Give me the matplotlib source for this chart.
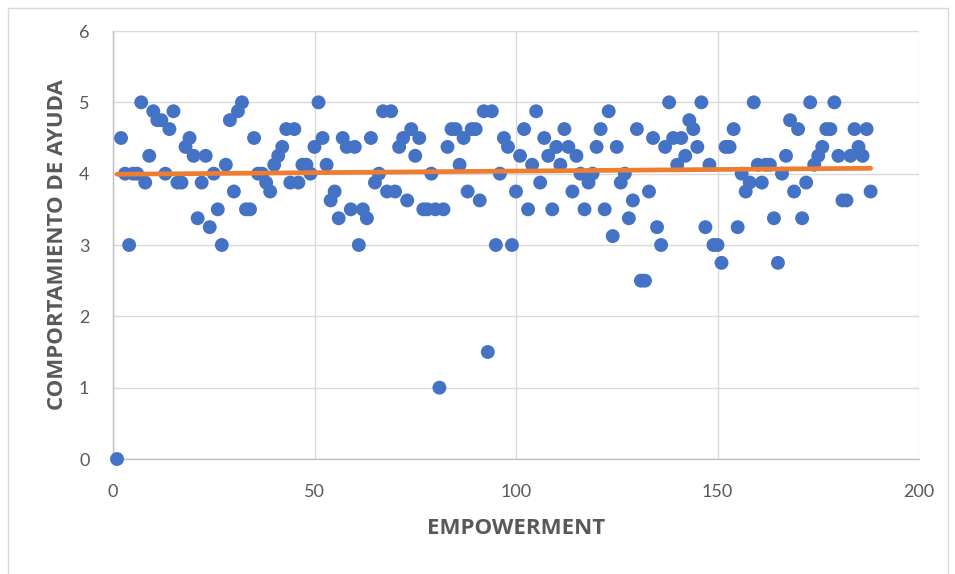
import numpy as np
import matplotlib
matplotlib.use("Agg")
import matplotlib.pyplot as plt
from matplotlib.patches import Rectangle

# Respondent index (EMPOWERMENT axis) and mean helping-behaviour score
empowerment = list(range(1, 189))
ayuda = [
    0, 4.5, 4, 3, 4, 4, 5, 3.875, 4.25, 4.875,
    4.75, 4.75, 4, 4.625, 4.875, 3.875, 3.875, 4.375, 4.5, 4.25,
    3.375, 3.875, 4.25, 3.25, 4, 3.5, 3, 4.125, 4.75, 3.75,
    4.875, 5, 3.5, 3.5, 4.5, 4, 4, 3.875, 3.75, 4.125,
    4.25, 4.375, 4.625, 3.875, 4.625, 3.875, 4.125, 4.125, 4, 4.375,
    5, 4.5, 4.125, 3.625, 3.75, 3.375, 4.5, 4.375, 3.5, 4.375,
    3, 3.5, 3.375, 4.5, 3.875, 4, 4.875, 3.75, 4.875, 3.75,
    4.375, 4.5, 3.625, 4.625, 4.25, 4.5, 3.5, 3.5, 4, 3.5,
    1, 3.5, 4.375, 4.625, 4.625, 4.125, 4.5, 3.75, 4.625, 4.625,
    3.625, 4.875, 1.5, 4.875, 3, 4, 4.5, 4.375, 3, 3.75,
    4.25, 4.625, 3.5, 4.125, 4.875, 3.875, 4.5, 4.25, 3.5, 4.375,
    4.125, 4.625, 4.375, 3.75, 4.25, 4, 3.5, 3.875, 4, 4.375,
    4.625, 3.5, 4.875, 3.125, 4.375, 3.875, 4, 3.375, 3.625, 4.625,
    2.5, 2.5, 3.75, 4.5, 3.25, 3, 4.375, 5, 4.5, 4.125,
    4.5, 4.25, 4.75, 4.625, 4.375, 5, 3.25, 4.125, 3, 3,
    2.75, 4.375, 4.375, 4.625, 3.25, 4, 3.75, 3.875, 5, 4.125,
    3.875, 4.125, 4.125, 3.375, 2.75, 4, 4.25, 4.75, 3.75, 4.625,
    3.375, 3.875, 5, 4.125, 4.25, 4.375, 4.625, 4.625, 5, 4.25,
    3.625, 3.625, 4.25, 4.625, 4.375, 4.25, 4.625, 3.75,
]

x_ticks = [0, 50, 100, 150, 200]
y_ticks = [0, 1, 2, 3, 4, 5, 6]

GRAY_TEXT = "#595959"
GRID = "#d9d9d9"
BLUE = "#4472C4"
ORANGE = "#ED7D31"

plt.rcParams["font.family"] = ["Lato", "DejaVu Sans"]

fig = plt.figure(figsize=(9.55, 5.74), dpi=100)
fig.patch.set_facecolor("white")

# chart-area frame
fig.patches.append(Rectangle((8 / 955, -0.02), 940 / 955, 1.02 - 8 / 574,
                             transform=fig.transFigure, fill=False,
                             edgecolor="#d9d9d9", linewidth=1.0))

ax = fig.add_axes([113 / 955, 1 - 459 / 574, (919 - 113) / 955, (459 - 31) / 574])

x = np.array(empowerment, dtype=float)
y = np.array(ayuda, dtype=float)

ax.scatter(x, y, s=100, color=BLUE, edgecolors="none", zorder=3, clip_on=False)

# linear trend line
slope, intercept = np.polyfit(x, y, 1)
xt = np.array([x.min(), x.max()])
ax.plot(xt, slope * xt + intercept, color=ORANGE, linewidth=3.4,
        solid_capstyle="round", zorder=4)

ax.set_xlim(0, 200)
ax.set_ylim(0, 6)
ax.set_xticks(x_ticks)
ax.set_yticks(y_ticks)
ax.grid(True, color=GRID, linewidth=1.0, zorder=0)
ax.set_axisbelow(True)
for side in ["top", "right"]:
    ax.spines[side].set_visible(False)
for side in ["left", "bottom"]:
    ax.spines[side].set_color("#bfbfbf")
    ax.spines[side].set_linewidth(1.0)
ax.tick_params(axis="both", length=0, labelsize=13, labelcolor=GRAY_TEXT)
ax.tick_params(axis="x", pad=18)
ax.tick_params(axis="y", pad=17)

label_font = dict(family=["Open Sans", "DejaVu Sans"], fontsize=16,
                  fontweight="bold", color=GRAY_TEXT)
ax.set_xlabel("EMPOWERMENT", labelpad=13, **label_font)
ax.set_ylabel("COMPORTAMIENTO DE AYUDA", labelpad=8, **label_font)

fig.savefig("out.png", dpi=100, facecolor="white")
